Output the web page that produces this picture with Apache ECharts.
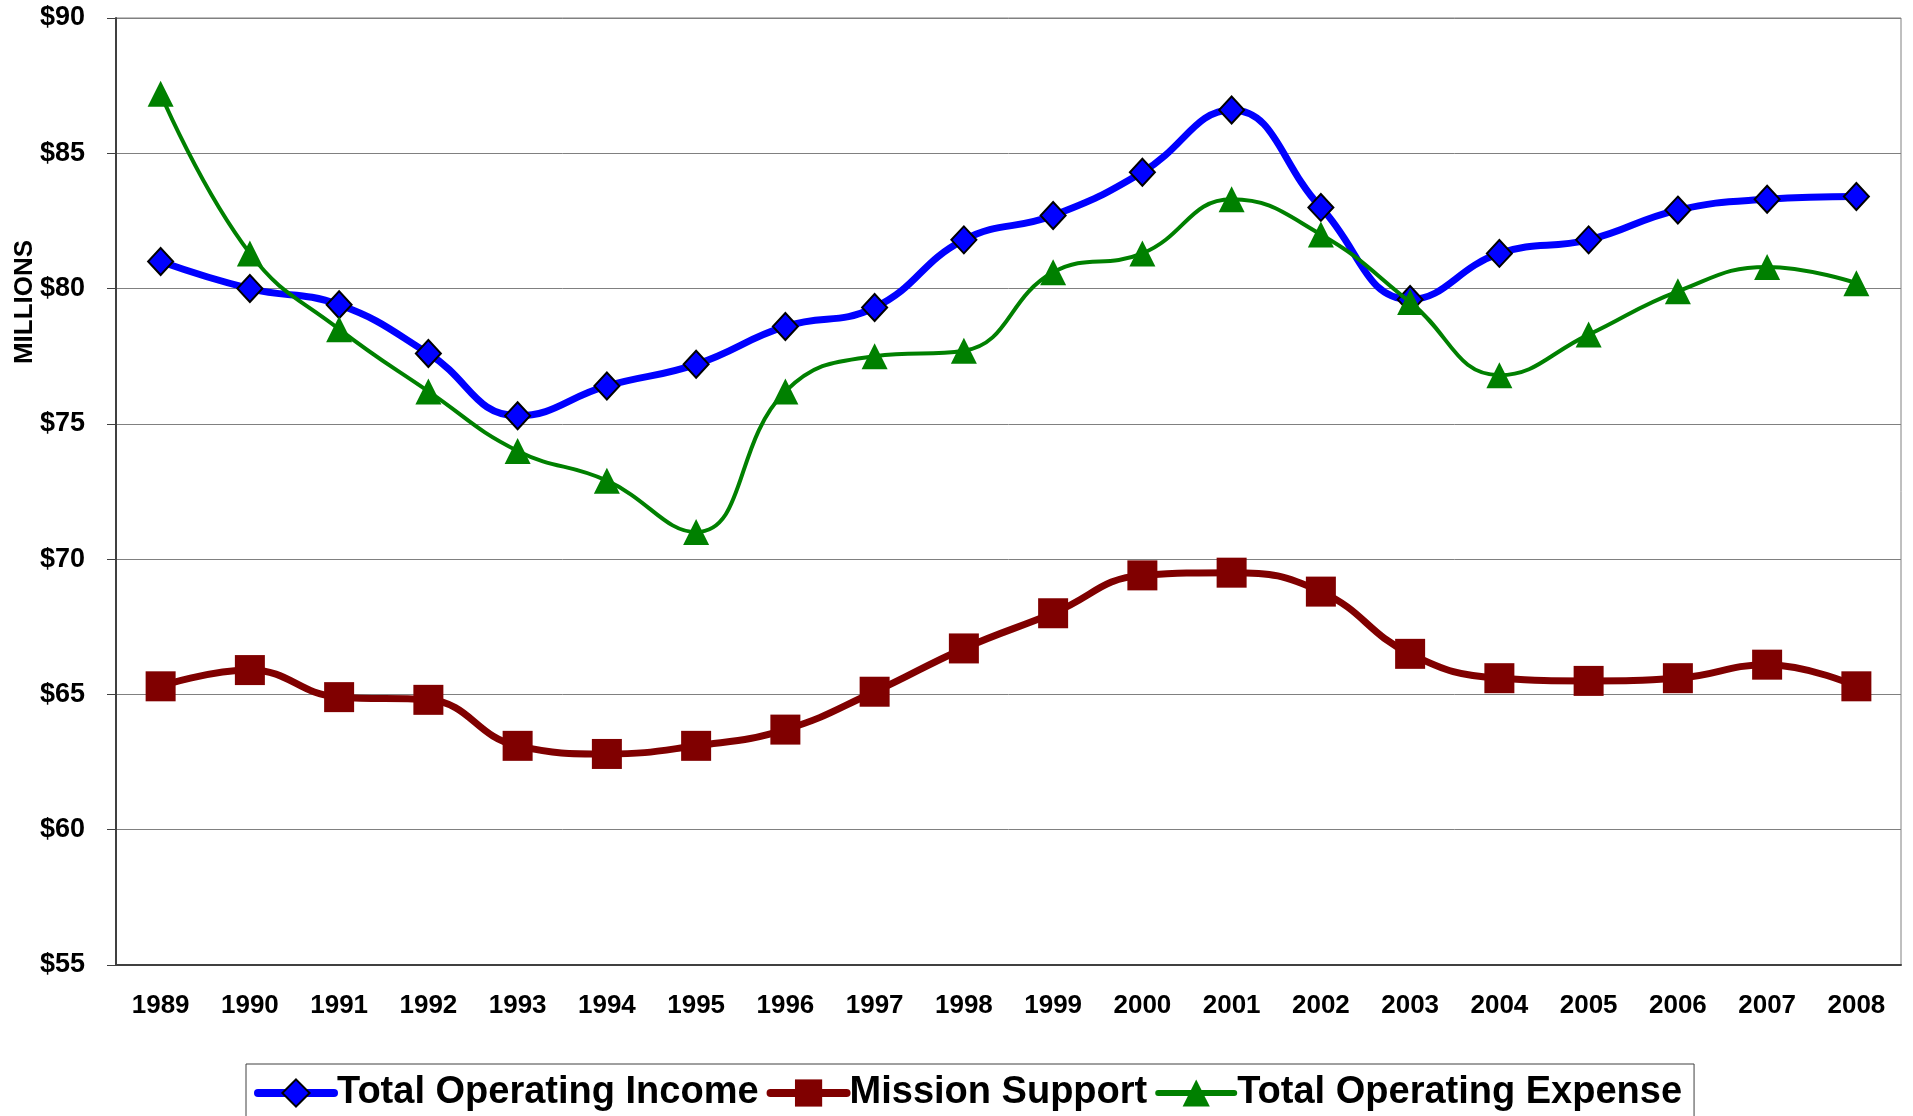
<!DOCTYPE html>
<html>
<head>
<meta charset="utf-8">
<script src="https://cdn.jsdelivr.net/npm/echarts@6/dist/echarts.min.js"></script>
<style>
html,body{margin:0;padding:0;background:#fff;}
#chart{width:1913px;height:1116px;}
</style>
</head>
<body>
<div id="chart"></div>
<script>
const years = ['1989','1990','1991','1992','1993','1994','1995','1996','1997','1998','1999','2000','2001','2002','2003','2004','2005','2006','2007','2008'];
const totalOperatingIncome = [81.0,80.0,79.4,77.6,75.3,76.4,77.2,78.6,79.3,81.8,82.7,84.3,86.6,83.0,79.6,81.3,81.8,82.9,83.3,83.4];
const missionSupport = [65.3,65.9,64.9,64.8,63.1,62.8,63.1,63.7,65.1,66.7,68.0,69.4,69.5,68.8,66.5,65.6,65.5,65.6,66.1,65.3];
const totalOperatingExpense = [87.2,81.3,78.5,76.2,74.0,72.9,71.0,76.2,77.5,77.7,80.6,81.3,83.3,82.0,79.5,76.8,78.3,79.9,80.8,80.2];
const yTicks = {min:55, max:90, interval:5};

const FONT = "'Liberation Sans', Arial, sans-serif";
const chart = echarts.init(document.getElementById('chart'), null, {renderer:'canvas'});
chart.setOption({
  animation:false,
  backgroundColor:'#ffffff',
  grid:{left:116, right:12, top:18, bottom:151, show:true, borderColor:'#808080', borderWidth:1},
  legend:{
    left:246, top:1064,
    padding:[10,12,10,8],
    borderColor:'#404040', borderWidth:1,
    itemGap:8, itemWidth:76, itemHeight:34,
    textStyle:{fontFamily:FONT, fontWeight:'bold', fontSize:38, color:'#000', padding:[4,0,0,-2]},
    data:[
      {name:'Total Operating Income', lineStyle:{width:8, cap:'round'}},
      {name:'Mission Support', lineStyle:{width:8, cap:'round'}},
      {name:'Total Operating Expense', lineStyle:{width:6, cap:'round'}}
    ]
  },
  xAxis:{
    type:'category', data:years, boundaryGap:true,
    axisLine:{lineStyle:{color:'#404040', width:2}},
    axisTick:{length:10, lineStyle:{color:'#404040', width:1}},
    axisLabel:{margin:28, fontFamily:FONT, fontWeight:'bold', fontSize:26, color:'#000'}
  },
  yAxis:{
    type:'value', min:yTicks.min, max:yTicks.max, interval:yTicks.interval,
    axisLine:{show:true, lineStyle:{color:'#404040', width:2}},
    axisTick:{show:true, length:9, lineStyle:{color:'#404040', width:1}},
    splitLine:{lineStyle:{color:'#808080', width:1}},
    axisLabel:{margin:31, fontFamily:FONT, fontWeight:'bold', fontSize:27, color:'#000', formatter:'${value}'}
  },
  graphic:[{
    type:'text', x:25, y:302, rotation:Math.PI/2,
    style:{text:'MILLIONS', fill:'#000', font:"bold 26px 'Liberation Sans', Arial, sans-serif", textAlign:'center', textVerticalAlign:'middle'}
  }],
  series:[
    {
      name:'Total Operating Income', type:'line', data:totalOperatingIncome, smooth:0.45,
      symbol:'diamond', symbolSize:[25,27],
      lineStyle:{color:'#0000ff', width:7},
      itemStyle:{color:'#0000ff', borderColor:'#000', borderWidth:2},
      z:2
    },
    {
      name:'Mission Support', type:'line', data:missionSupport, smooth:0.45,
      symbol:'rect', symbolSize:30,
      lineStyle:{color:'#800000', width:7},
      itemStyle:{color:'#800000', borderWidth:0},
      z:3
    },
    {
      name:'Total Operating Expense', type:'line', data:totalOperatingExpense, smooth:0.45,
      symbol:'triangle', symbolSize:[26,26],
      lineStyle:{color:'#008000', width:4},
      itemStyle:{color:'#008000', borderWidth:0},
      z:4
    }
  ]
});
</script>
</body>
</html>
